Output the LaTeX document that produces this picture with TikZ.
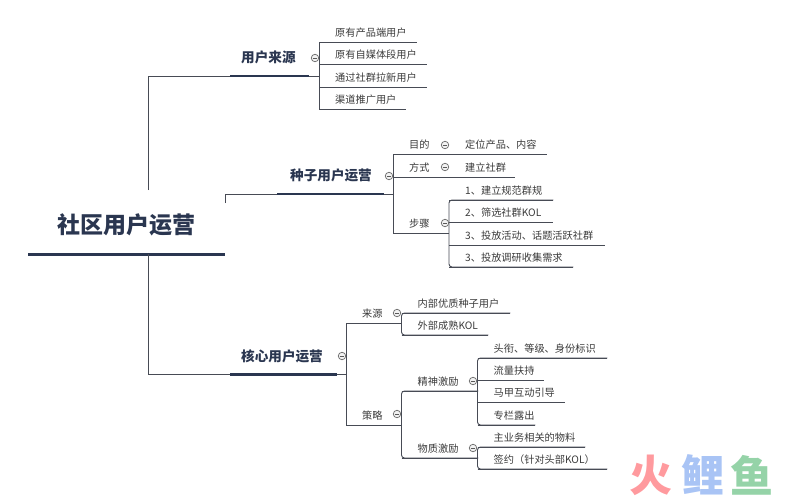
\documentclass[tikz,border=0pt]{standalone}
\usepackage{fontspec}
\setmainfont{Noto Sans CJK SC}
\definecolor{navy}{HTML}{2A3650}
\definecolor{wire}{HTML}{474B55}
\definecolor{leafink}{HTML}{3A3A3A}
\definecolor{logored}{HTML}{FF9A9E}
\definecolor{logoblue}{HTML}{A9C4F5}
\definecolor{logogreen}{HTML}{95D3A8}
\newcommand{\foldsize}{7.5pt}
\tikzset{
  wirestyle/.style={wire, line width=.9pt},
  spine/.style={wirestyle, rounded corners=3pt},
  leaf/.style={anchor=south west, inner sep=0pt, inner ysep=5pt, text depth=0pt,
    text width=#1, align=left, text=leafink, font=\fontsize{10.2}{12}\selectfont,
    execute at begin node={\hspace*{16pt}}},
  branch/.style={anchor=south west, inner sep=0pt, inner ysep=13pt, text depth=0pt,
    text=navy, text width=#1, align=left, font=\fontsize{13.6}{16}\selectfont\bfseries},
  rootnode/.style={anchor=south west, inner sep=0pt, inner ysep=21pt, text depth=0pt,
    text=navy, minimum width=197pt, font=\fontsize{23}{27}\selectfont\bfseries},
  foldmark/.style={draw=black!60, fill=black!5, circle, inner sep=0pt, minimum size=\foldsize,
    line width=.7pt, path picture={\draw[black!65, line width=.6pt]
      ([xshift=1.5pt]path picture bounding box.west) -- ([xshift=-1.5pt]path picture bounding box.east);}},
  logo/.style={inner sep=0pt, font=\fontsize{43}{50}\selectfont\bfseries}
}
\begin{document}
\begin{tikzpicture}[x=1pt,y=-1pt]
  \useasboundingbox (0,0) rectangle (798,499);
      %% root and the free ends of its three connectors
      \node[rootnode] (root) at (28,254.5) {社区用户运营};
      \draw[navy, line width=3.5pt] (root.south west) -- (root.south east);
      \coordinate (rootup) at (148,190);
      \coordinate (rootside) at (225,203);
      \coordinate (rootdown) at (148,254);

      %% the three main topics
      \node[branch=79pt] (src) at (230,76) {\hspace*{11pt}用户来源};
      \node[branch=107pt] (seed) at (277,194) {\hspace*{13pt}种子用户运营};
      \node[branch=107pt] (core) at (230,374.5) {\hspace*{11pt}核心用户运营};
      \foreach \j in {src,seed,core}
      { \draw[navy, line width=2.5pt] (\j.south west) to (\j.south east);}
      \draw[wirestyle] (rootup) |- (src.south west);
      \draw[wirestyle] (rootside) |- (seed.south west);
      \draw[wirestyle] (rootdown) |- (core.south west);

      %% everything that hangs on a spine
      \foreach \name/\x/\y/\len/\txt in {
        a1/319/42/98/原有产品端用户, a2/319/64/108/原有自媒体段用户,
        a3/319/87/108/通过社群拉新用户, a4/319/109/87/渠道推广用户,
        b1/393/154/56/目的, b2/393/177/56/方式, b3/393/233/56/步骤,
        b1a/449/154/98/定位产品、内容, b2a/449/177/66/建立社群,
        b3a/449/200/104/1、建立规范群规, b3b/449/222/104/2、筛选社群KOL,
        b3c/449/245/156/3、投放活动、话题活跃社群, b3d/449/267/124/3、投放调研收集需求,
        c1/346/323/56/来源, c2/346/425/56/策略,
        c1a/401.5/313/108.5/内部优质种子用户, c1b/401.5/335/86.5/外部成熟KOL,
        c2a/401.5/391/76.5/精神激励, c2b/401.5/458/76.5/物质激励,
        c2a1/477.5/358/129.5/头衔、等级、身份标识, c2a2/477.5/380/66.5/流量扶持,
        c2a3/477.5/402/87.5/马甲互动引导, c2a4/477.5/425/57.5/专栏露出,
        c2b1/477.5/447/107.5/主业务相关的物料, c2b2/477.5/469/129.5/签约（针对头部KOL）}
      { \node[leaf=\len pt] (\name) at (\x,\y) {\txt};
        \draw[wirestyle] (\name.south west) to (\name.south east);}

      %% spines
      \draw[wirestyle] (src.south east) to (a1.south west |- src.south east);
      \draw[wirestyle] (a1.south west) to (a4.south west);
      \draw[wirestyle] (seed.south east) to (b1.south west |- seed.south east);
      \draw[wirestyle] (b1.south west) to (b3.south west);
      \draw[wirestyle] (core.south east) to (c1.south west |- core.south east);
      \draw[wirestyle] (c1.south west) to (c2.south west);
      \draw[spine] (b3a.south east) -- (b3a.south west) -- (b3d.south west) -- (b3d.south east);
      \draw[spine] (c1a.south east) -- (c1a.south west) -- (c1b.south west) -- (c1b.south east);
      \draw[spine] (c2a.south east) -- (c2a.south west) -- (c2b.south west) -- (c2b.south east);
      \draw[spine] (c2a1.south east) -- (c2a1.south west) -- (c2a4.south west) -- (c2a4.south east);
      \draw[spine] (c2b1.south east) -- (c2b1.south west) -- (c2b2.south west) -- (c2b2.south east);

      %% fold marks
      \foreach \name/\x/\y in {a0/315/58, b0/389/176, b1o/445/145, b2o/445/167, b3o/445/223,
        c0/342/356, c1o/397/313, c2o/397/414, c2ao/473/381, c2bo/473/448}
      { \node[foldmark] (\name) at (\x,\y) {};}

      \node[logo, text=logored] (fire) at (651,475) {火};
      \node[logo, text=logoblue] (carp) at (703,475) {鲤};
      \node[logo, text=logogreen] (fish) at (752,475) {鱼};
\end{tikzpicture}
\end{document}
